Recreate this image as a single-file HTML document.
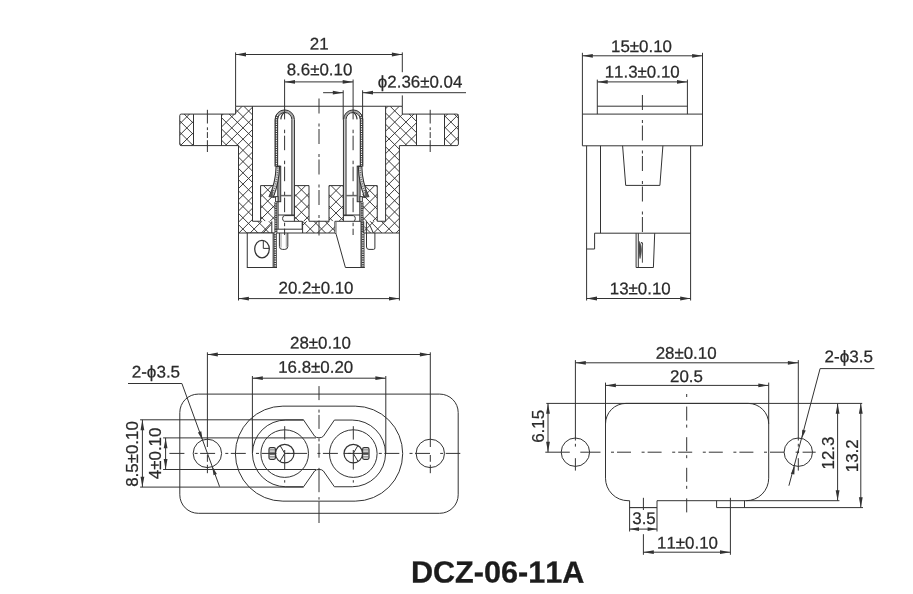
<!DOCTYPE html>
<html lang="en">
<head>
<meta charset="utf-8">
<title>DCZ-06-11A</title>
<style>
html,body{margin:0;padding:0;background:#fff;}
body{width:913px;height:594px;overflow:hidden;}
svg{display:block;}
svg text{font-family:"Liberation Sans",Arial,sans-serif;fill:#2a2a2a;stroke:#2a2a2a;stroke-width:0.25px;font-kerning:none;}
svg{will-change:transform;}
</style>
</head>
<body>
<svg width="913" height="594" viewBox="0 0 913 594" fill="none" stroke="#333333" stroke-width="1">
<rect x="0" y="0" width="913" height="594" fill="#ffffff" stroke="none"/>
<defs>
<clipPath id="hc"><path d="M179.75,114.1 L193.5,114.1 L193.5,145.6 L179.75,145.6 Z M221.5,114.1 L235.6,114.1 L235.6,106.25 L252.5,106.25 L252.5,221.25 L271.8,221.25 L271.8,233 L238.5,233 L238.5,145.6 L221.5,145.6 Z M302.6,221.25 L334.9,221.25 L334.9,233 L302.6,233 Z M364.4,221.25 L385.6,221.25 L385.6,106.25 L402.3,106.25 L402.3,114.1 L416.5,114.1 L416.5,145.6 L399.4,145.6 L399.4,233 L364.4,233 Z M444.5,114.1 L458.4,114.1 L458.4,145.6 L444.5,145.6 Z"/></clipPath>
<clipPath id="hb1"><path d="M260.6,185.6 L274.9,185.6 L274.9,221.25 L260.6,221.25 Z M294.4,185.6 L309,185.6 L309,221.25 L294.4,221.25 Z"/></clipPath>
<clipPath id="hb2"><path d="M329,185.6 L343.4,185.6 L343.4,221.25 L329,221.25 Z M362.5,185.6 L377.25,185.6 L377.25,221.25 L362.5,221.25 Z"/></clipPath>
</defs>
<g id="section-view">
<path d="M174.89,106.25 L48.14,233 M186.11,106.25 L59.36,233 M197.33,106.25 L70.58,233 M208.55,106.25 L81.8,233 M219.77,106.25 L93.02,233 M230.99,106.25 L104.24,233 M242.21,106.25 L115.46,233 M253.43,106.25 L126.68,233 M264.65,106.25 L137.9,233 M275.87,106.25 L149.12,233 M287.09,106.25 L160.34,233 M298.31,106.25 L171.56,233 M309.53,106.25 L182.78,233 M320.75,106.25 L194,233 M331.97,106.25 L205.22,233 M343.19,106.25 L216.44,233 M354.41,106.25 L227.66,233 M365.63,106.25 L238.88,233 M376.85,106.25 L250.1,233 M388.07,106.25 L261.32,233 M399.29,106.25 L272.54,233 M410.51,106.25 L283.76,233 M421.73,106.25 L294.98,233 M432.95,106.25 L306.2,233 M444.17,106.25 L317.42,233 M455.39,106.25 L328.64,233 M466.61,106.25 L339.86,233 M477.83,106.25 L351.08,233 M489.05,106.25 L362.3,233 M500.27,106.25 L373.52,233 M511.49,106.25 L384.74,233 M522.71,106.25 L395.96,233 M533.93,106.25 L407.18,233 M545.15,106.25 L418.4,233 M556.37,106.25 L429.62,233 M567.59,106.25 L440.84,233 M578.81,106.25 L452.06,233 M590.03,106.25 L463.28,233 M52.6,106.25 L179.35,233 M63.85,106.25 L190.6,233 M75.1,106.25 L201.85,233 M86.35,106.25 L213.1,233 M97.6,106.25 L224.35,233 M108.85,106.25 L235.6,233 M120.1,106.25 L246.85,233 M131.35,106.25 L258.1,233 M142.6,106.25 L269.35,233 M153.85,106.25 L280.6,233 M165.1,106.25 L291.85,233 M176.35,106.25 L303.1,233 M187.6,106.25 L314.35,233 M198.85,106.25 L325.6,233 M210.1,106.25 L336.85,233 M221.35,106.25 L348.1,233 M232.6,106.25 L359.35,233 M243.85,106.25 L370.6,233 M255.1,106.25 L381.85,233 M266.35,106.25 L393.1,233 M277.6,106.25 L404.35,233 M288.85,106.25 L415.6,233 M300.1,106.25 L426.85,233 M311.35,106.25 L438.1,233 M322.6,106.25 L449.35,233 M333.85,106.25 L460.6,233 M345.1,106.25 L471.85,233 M356.35,106.25 L483.1,233 M367.6,106.25 L494.35,233 M378.85,106.25 L505.6,233 M390.1,106.25 L516.85,233 M401.35,106.25 L528.1,233 M412.6,106.25 L539.35,233 M423.85,106.25 L550.6,233 M435.1,106.25 L561.85,233 M446.35,106.25 L573.1,233 M457.6,106.25 L584.35,233 M468.85,106.25 L595.6,233" clip-path="url(#hc)" stroke-width="0.95"/>
<path d="M249.56,185.6 L213.91,221.25 M260.78,185.6 L225.13,221.25 M272,185.6 L236.35,221.25 M283.22,185.6 L247.57,221.25 M294.44,185.6 L258.79,221.25 M305.66,185.6 L270.01,221.25 M316.88,185.6 L281.23,221.25 M328.1,185.6 L292.45,221.25 M339.32,185.6 L303.67,221.25 M350.54,185.6 L314.89,221.25 M218.5,185.6 L254.15,221.25 M229.75,185.6 L265.4,221.25 M241,185.6 L276.65,221.25 M252.25,185.6 L287.9,221.25 M263.5,185.6 L299.15,221.25 M274.75,185.6 L310.4,221.25 M286,185.6 L321.65,221.25 M297.25,185.6 L332.9,221.25 M308.5,185.6 L344.15,221.25 M319.75,185.6 L355.4,221.25" clip-path="url(#hb1)" stroke-width="0.95"/>
<path d="M318.58,185.6 L282.93,221.25 M329.8,185.6 L294.15,221.25 M341.02,185.6 L305.37,221.25 M352.24,185.6 L316.59,221.25 M363.46,185.6 L327.81,221.25 M374.68,185.6 L339.03,221.25 M385.9,185.6 L350.25,221.25 M397.12,185.6 L361.47,221.25 M408.34,185.6 L372.69,221.25 M419.56,185.6 L383.91,221.25 M286.05,185.6 L321.7,221.25 M297.3,185.6 L332.95,221.25 M308.55,185.6 L344.2,221.25 M319.8,185.6 L355.45,221.25 M331.05,185.6 L366.7,221.25 M342.3,185.6 L377.95,221.25 M353.55,185.6 L389.2,221.25 M364.8,185.6 L400.45,221.25 M376.05,185.6 L411.7,221.25 M387.3,185.6 L422.95,221.25" clip-path="url(#hb2)" stroke-width="0.95"/>
<path d="M193.5,114.1 L181.25,114.1 Q179.75,114.1 179.75,115.6 L179.75,144.1 Q179.75,145.6 181.25,145.6 L193.5,145.6"/>
<line x1="193.5" y1="114.1" x2="193.5" y2="145.6"/>
<line x1="221.5" y1="114.1" x2="221.5" y2="145.6"/>
<line x1="193.5" y1="114.1" x2="235.6" y2="114.1"/>
<line x1="193.5" y1="145.6" x2="238.5" y2="145.6"/>
<path d="M235.6,114.1 L235.6,106.25 L402.3,106.25 L402.3,114.1"/>
<line x1="238.5" y1="145.6" x2="238.5" y2="233"/>
<line x1="399.4" y1="145.6" x2="399.4" y2="233"/>
<line x1="238.5" y1="233" x2="399.4" y2="233"/>
<path d="M252.5,106.25 L252.5,221.25 L260.6,221.25 L260.6,185.6 L274.9,185.6"/>
<path d="M294.4,221.25 L294.4,185.6 L309,185.6 L309,221.25 L329,221.25 L329,185.6 L343.4,185.6 L343.4,221.25"/>
<path d="M362.5,185.6 L377.25,185.6 L377.25,221.25 L385.6,221.25 L385.6,106.25"/>
<line x1="402.3" y1="114.1" x2="444.5" y2="114.1"/>
<line x1="399.4" y1="145.6" x2="444.5" y2="145.6"/>
<line x1="416.5" y1="114.1" x2="416.5" y2="145.6"/>
<line x1="444.5" y1="114.1" x2="444.5" y2="145.6"/>
<path d="M444.5,114.1 L456.9,114.1 Q458.4,114.1 458.4,115.6 L458.4,144.1 Q458.4,145.6 456.9,145.6 L444.5,145.6"/>
<line x1="302.6" y1="221.25" x2="302.6" y2="233"/>
<line x1="293.15" y1="119.6" x2="293.15" y2="215.6" stroke-width="2.4" stroke="#cccccc"/>
<path d="M276.3,119.6 A8.45,8.45 0 0 1 293.2,119.6" stroke-width="2.2" stroke="#a8a8a8"/>
<path d="M275.05,166.5 L275.05,119.6 A9.7,9.7 0 0 1 294.45,119.6 L294.45,215.6"/>
<path d="M277.65,166.5 L277.65,119.6 A7.1,7.1 0 0 1 291.85,119.6 L291.85,215"/>
<path d="M277.9,114.8 A8.4,8.4 0 0 0 276.4,119.6 L276.4,166.5" stroke="#3a3a3a" stroke-width="3"/>
<path d="M277.9,114.8 A8.4,8.4 0 0 0 276.4,119.6 L276.4,166.5" stroke="#fff" stroke-width="1.1" stroke-dasharray="1.3 1.0"/>
<rect x="277.8" y="166.2" width="2.9" height="35.5" fill="#a6a6a6"/>
<path d="M276.1,166.4 Q275.6,183 269.2,196.5 L273.3,197.1 Q279,183 279.6,166.4 Z" fill="#d9d9d9" stroke-width="1.1"/>
<path d="M277.8,167.5 Q277.3,183 271.4,196.2" stroke="#555" stroke-width="1.6" stroke-dasharray="0.9 1.4"/>
<polygon points="269,196.9 272.6,197.2 273,187.5" fill="#555" stroke="none"/>
<rect x="275.6" y="196.6" width="2.4" height="5.1" fill="#fff"/>
<line x1="272.6" y1="197.2" x2="275.6" y2="197.2"/>
<path d="M284.4,112.6 Q281.4,114.4 280.8,119.4" stroke-width="1.2"/>
<line x1="280.7" y1="195.6" x2="291.85" y2="195.6" stroke-width="1.5" stroke="#666"/>
<line x1="278.1" y1="201.7" x2="278.1" y2="229.2"/>
<path d="M275.9,202 L275.9,233" stroke="#3a3a3a" stroke-width="2.9"/>
<path d="M275.9,202 L275.9,233" stroke="#fff" stroke-width="1" stroke-dasharray="1.3 1.0"/>
<line x1="278.1" y1="215" x2="294.45" y2="215"/>
<path d="M294.45,215.6 L284.6,215.6 Q282.4,216 282.6,218.6 Q282.6,221 284.2,221.3"/>
<line x1="344.75" y1="119.6" x2="344.75" y2="215.6" stroke-width="2.4" stroke="#cccccc"/>
<path d="M361.6,119.6 A8.45,8.45 0 0 0 344.7,119.6" stroke-width="2.2" stroke="#a8a8a8"/>
<path d="M362.85,166.5 L362.85,119.6 A9.7,9.7 0 0 0 343.45,119.6 L343.45,215.6"/>
<path d="M360.25,166.5 L360.25,119.6 A7.1,7.1 0 0 0 346.05,119.6 L346.05,215"/>
<path d="M360,114.8 A8.4,8.4 0 0 1 361.5,119.6 L361.5,166.5" stroke="#3a3a3a" stroke-width="3"/>
<path d="M360,114.8 A8.4,8.4 0 0 1 361.5,119.6 L361.5,166.5" stroke="#fff" stroke-width="1.1" stroke-dasharray="1.3 1.0"/>
<rect x="357.2" y="166.2" width="2.9" height="35.5" fill="#a6a6a6"/>
<path d="M361.8,166.4 Q362.3,183 368.7,196.5 L364.6,197.1 Q358.9,183 358.3,166.4 Z" fill="#d9d9d9" stroke-width="1.1"/>
<path d="M360.1,167.5 Q360.6,183 366.5,196.2" stroke="#555" stroke-width="1.6" stroke-dasharray="0.9 1.4"/>
<polygon points="368.9,196.9 365.3,197.2 364.9,187.5" fill="#555" stroke="none"/>
<rect x="359.9" y="196.6" width="2.4" height="5.1" fill="#fff"/>
<line x1="365.3" y1="197.2" x2="362.3" y2="197.2"/>
<path d="M353.5,112.6 Q356.5,114.4 357.1,119.4" stroke-width="1.2"/>
<line x1="357.2" y1="195.6" x2="346.05" y2="195.6" stroke-width="1.5" stroke="#666"/>
<line x1="359.8" y1="201.7" x2="359.8" y2="229.2"/>
<path d="M362,202 L362,233" stroke="#3a3a3a" stroke-width="2.9"/>
<path d="M362,202 L362,233" stroke="#fff" stroke-width="1" stroke-dasharray="1.3 1.0"/>
<line x1="359.8" y1="215" x2="343.45" y2="215"/>
<path d="M343.45,215.6 L353.3,215.6 Q355.5,216 355.3,218.6 Q355.3,221 353.7,221.3"/>
<path d="M284.2,221.3 L302.2,221.3 L302.2,229.2 L274.5,229.2"/>
<line x1="271.8" y1="221.25" x2="271.8" y2="233"/>
<line x1="263" y1="233" x2="270.8" y2="224.8"/>
<rect x="247.25" y="233" width="25.9" height="34.5" fill="#fff"/>
<ellipse cx="262.0" cy="249.1" rx="7.3" ry="8.7" stroke-width="1.25"/>
<path d="M263.3,240.6 L263.3,248.4 L269.3,248.4"/>
<path d="M275.2,233 L275.2,267.5" stroke="#3a3a3a" stroke-width="3.2"/>
<path d="M275.2,233 L275.2,267.5" stroke="#fff" stroke-width="1.3" stroke-dasharray="1.3 1.0"/>
<line x1="273.1" y1="267.5" x2="277" y2="267.5"/>
<path d="M279.4,233 L279.4,246.4 Q279.4,249.4 282.4,249.4 L284.8,249.4 Q287.8,249.4 287.8,246.4 L287.8,233"/>
<line x1="281" y1="233" x2="281" y2="247.5" stroke-width="0.7" stroke="#777"/>
<line x1="286.3" y1="233" x2="286.3" y2="247.5" stroke-width="0.7" stroke="#777"/>
<path d="M334.9,221.3 L361.0,221.3 L361.0,267.5 L345.4,267.5 L336.2,234.3 L334.9,232.5 Z" fill="#fff"/>
<line x1="336.2" y1="221.3" x2="336.2" y2="234.3" stroke-width="0.8" stroke="#777"/>
<path d="M362.9,233 L362.9,267.5" stroke="#3a3a3a" stroke-width="3.2"/>
<path d="M362.9,233 L362.9,267.5" stroke="#fff" stroke-width="1.3" stroke-dasharray="1.3 1.0"/>
<line x1="361" y1="267.5" x2="364.8" y2="267.5"/>
<line x1="363.7" y1="221.25" x2="363.7" y2="233"/>
<line x1="366.4" y1="221.25" x2="366.4" y2="233"/>
<path d="M366.4,221.3 Q370.6,225 373.3,233"/>
<path d="M366.5,233 L366.5,247.0 Q366.5,249.4 369.0,249.4 L373.6,249.4 Q374.9,249.4 374.9,248.0 L374.9,233"/>
<line x1="319" y1="98.5" x2="319" y2="235.5" stroke-dasharray="15 10 3 2.5"/>
<line x1="284.6" y1="129.7" x2="284.6" y2="235" stroke-dasharray="3.5 2.5 14.5 10.5"/>
<line x1="353.1" y1="129.7" x2="353.1" y2="235" stroke-dasharray="3.5 2.5 14.5 10.5"/>
<line x1="207.4" y1="109.8" x2="207.4" y2="123.5"/>
<line x1="207.4" y1="127.3" x2="207.4" y2="130.1"/>
<line x1="207.4" y1="132.1" x2="207.4" y2="138"/>
<line x1="207.4" y1="140.2" x2="207.4" y2="152"/>
<line x1="430.2" y1="109.8" x2="430.2" y2="123.5"/>
<line x1="430.2" y1="127.3" x2="430.2" y2="130.1"/>
<line x1="430.2" y1="132.1" x2="430.2" y2="138"/>
<line x1="430.2" y1="140.2" x2="430.2" y2="152"/>
<line x1="235.6" y1="52.4" x2="235.6" y2="106.25"/>
<line x1="402.3" y1="52.4" x2="402.3" y2="72.2"/>
<line x1="402.3" y1="95.4" x2="402.3" y2="106.25"/>
<line x1="235.6" y1="54.5" x2="402.3" y2="54.5"/>
<polygon points="235.6,54.5 246,52.6 246,56.4" fill="#333333" stroke="none"/>
<polygon points="402.3,54.5 391.9,56.4 391.9,52.6" fill="#333333" stroke="none"/>
<text transform="translate(319.2,49.4) rotate(0.03) scale(1,1)" font-size="16.9" text-anchor="middle">21</text>
<line x1="284.6" y1="79.5" x2="284.6" y2="119.4"/>
<line x1="353.1" y1="79.5" x2="353.1" y2="119.4"/>
<line x1="284.6" y1="81.9" x2="353.1" y2="81.9"/>
<polygon points="284.6,81.9 295,80 295,83.8" fill="#333333" stroke="none"/>
<polygon points="353.1,81.9 342.7,83.8 342.7,80" fill="#333333" stroke="none"/>
<text transform="translate(319.5,75.3) rotate(0.03) scale(1,1)" font-size="16.9" text-anchor="middle">8.6±0.10</text>
<line x1="343.2" y1="90.3" x2="343.2" y2="119.6"/>
<line x1="362.6" y1="90.3" x2="362.6" y2="119.6"/>
<line x1="323.1" y1="92.7" x2="343.2" y2="92.7"/>
<line x1="362.6" y1="92.7" x2="466" y2="92.7"/>
<polygon points="343.2,92.7 332.8,94.6 332.8,90.8" fill="#333333" stroke="none"/>
<polygon points="362.6,92.7 373,90.8 373,94.6" fill="#333333" stroke="none"/>
<text transform="translate(420.1,87.5) rotate(0.03) scale(1,1)" font-size="16.9" text-anchor="middle">ϕ2.36±0.04</text>
<line x1="238.5" y1="233" x2="238.5" y2="300.5"/>
<line x1="399.4" y1="233" x2="399.4" y2="300.5"/>
<line x1="238.5" y1="298.6" x2="399.4" y2="298.6"/>
<polygon points="238.5,298.6 248.9,296.7 248.9,300.5" fill="#333333" stroke="none"/>
<polygon points="399.4,298.6 389,300.5 389,296.7" fill="#333333" stroke="none"/>
<text transform="translate(316,293.6) rotate(0.03) scale(1,1)" font-size="16.9" text-anchor="middle">20.2±0.10</text>
</g>
<g id="side-view">
<line x1="582.4" y1="52.8" x2="582.4" y2="145.8"/>
<line x1="702.5" y1="52.8" x2="702.5" y2="145.8"/>
<line x1="582.4" y1="55.8" x2="702.5" y2="55.8"/>
<polygon points="582.4,55.8 592.8,53.9 592.8,57.7" fill="#333333" stroke="none"/>
<polygon points="702.5,55.8 692.1,57.7 692.1,53.9" fill="#333333" stroke="none"/>
<text transform="translate(641.5,52) rotate(0.03) scale(1,1)" font-size="16.9" text-anchor="middle">15±0.10</text>
<line x1="597.3" y1="79.6" x2="597.3" y2="114.1"/>
<line x1="687.4" y1="79.6" x2="687.4" y2="114.1"/>
<line x1="597.3" y1="81.9" x2="687.4" y2="81.9"/>
<polygon points="597.3,81.9 607.7,80 607.7,83.8" fill="#333333" stroke="none"/>
<polygon points="687.4,81.9 677,83.8 677,80" fill="#333333" stroke="none"/>
<text transform="translate(642.2,77.4) rotate(0.03) scale(1,1)" font-size="16.9" text-anchor="middle">11.3±0.10</text>
<line x1="597.3" y1="106.2" x2="687.4" y2="106.2"/>
<line x1="582.4" y1="114.1" x2="702.5" y2="114.1"/>
<line x1="582.4" y1="145.8" x2="702.5" y2="145.8"/>
<line x1="586.6" y1="145.8" x2="586.6" y2="300.5"/>
<line x1="600.5" y1="145.8" x2="600.5" y2="233.2"/>
<line x1="690.6" y1="145.8" x2="690.6" y2="300.5"/>
<path d="M622.6,145.8 L625.7,185.4 L659.9,185.4 L662.9,145.8"/>
<path d="M586.6,249 L594.6,249 L594.6,233.2 L690.6,233.2"/>
<path d="M636.1,233.2 L636.1,267.5 L653.4,267.5 L654.7,233.2"/>
<line x1="638.3" y1="233.2" x2="638.3" y2="267.5"/>
<path d="M639.3,241.4 Q642.0,246 641.4,251 Q641.0,256 640.0,258.6 Q638.8,254 638.9,249 Q638.9,244 639.3,241.4 Z" fill="#4a4a4a" stroke="#4a4a4a" stroke-width="0.6"/>
<line x1="642.4" y1="242.5" x2="642.4" y2="262.7" stroke-width="0.9"/>
<line x1="641.2" y1="242" x2="642.6" y2="244.2" stroke-width="0.9"/>
<line x1="642.4" y1="95" x2="642.4" y2="232.5" stroke-dasharray="15 10 3 2.5"/>
<line x1="586.6" y1="298.5" x2="690.6" y2="298.5"/>
<polygon points="586.6,298.5 597,296.6 597,300.4" fill="#333333" stroke="none"/>
<polygon points="690.6,298.5 680.2,300.4 680.2,296.6" fill="#333333" stroke="none"/>
<text transform="translate(640.2,294.2) rotate(0.03) scale(1,1)" font-size="16.9" text-anchor="middle">13±0.10</text>
</g>
<g id="front-view">
<rect x="179.8" y="394.1" width="278.4" height="119.2" rx="18.5" ry="18.5"/>
<path d="M282.9,406.15 A47.5,47.5 0 0 0 282.9,501.15 L355.2,501.15 A47.5,47.5 0 0 0 355.2,406.15 Z"/>
<path d="M285.8,420.05 A33.35,33.35 0 0 0 285.8,486.75 L303.6,486.75 L314.6,471 Q316,469.4 319,469.4 Q322,469.4 323.4,471 L334.4,486.75 L352.2,486.75 A33.35,33.35 0 0 0 352.2,420.05 L334.4,420.05 L323.4,436.2 Q322,437.8 319,437.8 Q316,437.8 314.6,436.2 L303.6,420.05 Z"/>
<circle cx="284.7" cy="453.6" r="23.8"/>
<circle cx="284.7" cy="453.6" r="9.3" stroke-width="1.2"/>
<line x1="284.7" y1="453.4" x2="294.2" y2="453.4"/>
<line x1="284.7" y1="453.4" x2="279.9" y2="445.2"/>
<line x1="284.7" y1="453.4" x2="279.9" y2="461.6"/>
<rect x="269" y="447.7" width="6.4" height="11.6" rx="1.5" ry="1.5" stroke-width="1.2" fill="#f4f4f4"/>
<line x1="269.5" y1="449.92" x2="274.9" y2="449.92" stroke-width="0.85" stroke="#4a4a4a"/>
<line x1="269.5" y1="452.24" x2="274.9" y2="452.24" stroke-width="0.85" stroke="#4a4a4a"/>
<line x1="269.5" y1="454.56" x2="274.9" y2="454.56" stroke-width="0.85" stroke="#4a4a4a"/>
<line x1="269.5" y1="456.88" x2="274.9" y2="456.88" stroke-width="0.85" stroke="#4a4a4a"/>
<line x1="284.7" y1="426.2" x2="284.7" y2="439.6"/>
<line x1="284.7" y1="450" x2="284.7" y2="469.6"/>
<line x1="284.7" y1="480.2" x2="284.7" y2="482.6"/>
<circle cx="353.3" cy="453.6" r="23.8"/>
<circle cx="353.3" cy="453.6" r="9.3" stroke-width="1.2"/>
<line x1="353.3" y1="453.4" x2="343.8" y2="453.4"/>
<line x1="353.3" y1="453.4" x2="358.1" y2="445.2"/>
<line x1="353.3" y1="453.4" x2="358.1" y2="461.6"/>
<rect x="362.6" y="447.7" width="6.4" height="11.6" rx="1.5" ry="1.5" stroke-width="1.2" fill="#f4f4f4"/>
<line x1="363.1" y1="449.92" x2="368.5" y2="449.92" stroke-width="0.85" stroke="#4a4a4a"/>
<line x1="363.1" y1="452.24" x2="368.5" y2="452.24" stroke-width="0.85" stroke="#4a4a4a"/>
<line x1="363.1" y1="454.56" x2="368.5" y2="454.56" stroke-width="0.85" stroke="#4a4a4a"/>
<line x1="363.1" y1="456.88" x2="368.5" y2="456.88" stroke-width="0.85" stroke="#4a4a4a"/>
<line x1="353.3" y1="426.2" x2="353.3" y2="439.6"/>
<line x1="353.3" y1="450" x2="353.3" y2="469.6"/>
<line x1="353.3" y1="480.2" x2="353.3" y2="482.6"/>
<line x1="319" y1="386.1" x2="319" y2="460" stroke-dasharray="14 9.5 3 2.3"/>
<line x1="319" y1="467.9" x2="319" y2="492.2"/>
<line x1="319" y1="497.2" x2="319" y2="499.6"/>
<line x1="319" y1="501.5" x2="319" y2="523"/>
<line x1="169.4" y1="453.4" x2="460.3" y2="453.4" stroke-dasharray="15 10.2 3 2.5"/>
<circle cx="207.4" cy="453.4" r="14.2"/>
<circle cx="430.3" cy="453.4" r="14.2"/>
<line x1="207.4" y1="352.3" x2="207.4" y2="447"/>
<line x1="207.4" y1="455" x2="207.4" y2="461.8"/>
<line x1="207.4" y1="464.8" x2="207.4" y2="473.2"/>
<line x1="430.3" y1="352.3" x2="430.3" y2="447"/>
<line x1="430.3" y1="455" x2="430.3" y2="461.8"/>
<line x1="430.3" y1="464.8" x2="430.3" y2="473.2"/>
<line x1="207.4" y1="354.5" x2="430.3" y2="354.5"/>
<polygon points="207.4,354.5 217.8,352.6 217.8,356.4" fill="#333333" stroke="none"/>
<polygon points="430.3,354.5 419.9,356.4 419.9,352.6" fill="#333333" stroke="none"/>
<text transform="translate(320.5,348.5) rotate(0.03) scale(1,1)" font-size="16.9" text-anchor="middle">28±0.10</text>
<line x1="252.4" y1="376" x2="252.4" y2="453.4"/>
<line x1="385.8" y1="376" x2="385.8" y2="453.4"/>
<line x1="252.4" y1="378.2" x2="385.8" y2="378.2"/>
<polygon points="252.4,378.2 262.8,376.3 262.8,380.1" fill="#333333" stroke="none"/>
<polygon points="385.8,378.2 375.4,380.1 375.4,376.3" fill="#333333" stroke="none"/>
<text transform="translate(315.7,372.7) rotate(0.03) scale(1,1)" font-size="16.9" text-anchor="middle">16.8±0.20</text>
<text transform="translate(155.9,377.4) rotate(0.03) scale(1.01,1)" font-size="16.9" text-anchor="middle">2-ϕ3.5</text>
<path d="M128,383.5 L181.9,383.5 L219.6,486.7"/>
<polygon points="202.6,440.2 197.89,432.55 201.27,431.32" fill="#333333" stroke="none"/>
<polygon points="212.2,466.4 216.91,474.05 213.53,475.28" fill="#333333" stroke="none"/>
<line x1="140.1" y1="419.8" x2="303.6" y2="419.8"/>
<line x1="140.1" y1="487.1" x2="303.6" y2="487.1"/>
<line x1="142.4" y1="419.8" x2="142.4" y2="487.1"/>
<polygon points="142.4,419.8 144.3,430.2 140.5,430.2" fill="#333333" stroke="none"/>
<polygon points="142.4,487.1 140.5,476.7 144.3,476.7" fill="#333333" stroke="none"/>
<line x1="163.1" y1="437.9" x2="316" y2="437.9"/>
<line x1="163.1" y1="469.5" x2="316" y2="469.5"/>
<line x1="165.6" y1="437.9" x2="165.6" y2="469.5"/>
<polygon points="165.6,437.9 167.5,448.3 163.7,448.3" fill="#333333" stroke="none"/>
<polygon points="165.6,469.5 163.7,459.1 167.5,459.1" fill="#333333" stroke="none"/>
<text transform="translate(137.5,454) rotate(-90) scale(1,1)" font-size="16.9" text-anchor="middle">8.5±0.10</text>
<text transform="translate(160.9,453.4) rotate(-90) scale(1,1)" font-size="16.9" text-anchor="middle">4±0.10</text>
</g>
<g id="cutout-view">
<path d="M605.5,423.9 A20.5,20.5 0 0 1 626,403.4 L748.2,403.4 A20.5,20.5 0 0 1 768.7,423.9 L768.7,478.2 A22.5,22.5 0 0 1 746.2,500.7"/>
<path d="M628,500.7 A22.5,22.5 0 0 1 605.5,478.2 L605.5,423.9"/>
<line x1="546.3" y1="403.4" x2="862.2" y2="403.4"/>
<line x1="628" y1="500.7" x2="629.6" y2="500.7"/>
<line x1="629.6" y1="500.7" x2="629.6" y2="531.5"/>
<line x1="657" y1="500.7" x2="657" y2="531.5"/>
<line x1="629.6" y1="507.6" x2="657" y2="507.6" stroke-width="1.1"/>
<line x1="657" y1="500.7" x2="839.4" y2="500.7"/>
<line x1="716.6" y1="500.7" x2="716.6" y2="507.6"/>
<line x1="744.5" y1="500.7" x2="744.5" y2="507.6"/>
<line x1="716.6" y1="507.6" x2="863" y2="507.6"/>
<circle cx="575.4" cy="452.2" r="14.2"/>
<circle cx="798.3" cy="452.2" r="14.2"/>
<line x1="545.3" y1="452.2" x2="569.8" y2="452.2"/>
<line x1="580.3" y1="452.2" x2="600.5" y2="452.2"/>
<line x1="611" y1="452.2" x2="785.5" y2="452.2" stroke-dasharray="3 3 14 10.6"/>
<line x1="795.6" y1="452.2" x2="799.1" y2="452.2"/>
<line x1="802.6" y1="452.2" x2="815.7" y2="452.2"/>
<line x1="686.7" y1="394" x2="686.7" y2="512.4" stroke-dasharray="3 9.6 14 4"/>
<line x1="575.4" y1="360.1" x2="575.4" y2="440.5"/>
<line x1="575.4" y1="443.8" x2="575.4" y2="446.6"/>
<line x1="575.4" y1="458.2" x2="575.4" y2="470.6"/>
<line x1="798.3" y1="360.1" x2="798.3" y2="440.5"/>
<line x1="798.3" y1="443.8" x2="798.3" y2="446.6"/>
<line x1="798.3" y1="458.2" x2="798.3" y2="470.6"/>
<line x1="798.3" y1="450.4" x2="798.3" y2="453.2"/>
<line x1="575.4" y1="362.8" x2="798.3" y2="362.8"/>
<polygon points="575.4,362.8 585.8,360.9 585.8,364.7" fill="#333333" stroke="none"/>
<polygon points="798.3,362.8 787.9,364.7 787.9,360.9" fill="#333333" stroke="none"/>
<text transform="translate(686.1,358.7) rotate(0.03) scale(1,1)" font-size="16.9" text-anchor="middle">28±0.10</text>
<line x1="605.5" y1="382.6" x2="605.5" y2="423.9"/>
<line x1="768.7" y1="382.6" x2="768.7" y2="423.9"/>
<line x1="605.5" y1="385.4" x2="768.7" y2="385.4"/>
<polygon points="605.5,385.4 615.9,383.5 615.9,387.3" fill="#333333" stroke="none"/>
<polygon points="768.7,385.4 758.3,387.3 758.3,383.5" fill="#333333" stroke="none"/>
<text transform="translate(686.5,382.1) rotate(0.03) scale(1,1)" font-size="16.9" text-anchor="middle">20.5</text>
<line x1="548" y1="403.4" x2="548" y2="452.2"/>
<polygon points="548,403.4 549.9,413.8 546.1,413.8" fill="#333333" stroke="none"/>
<polygon points="548,452.2 546.1,441.8 549.9,441.8" fill="#333333" stroke="none"/>
<text transform="translate(543.7,426.4) rotate(-90) scale(1,1)" font-size="16.9" text-anchor="middle">6.15</text>
<line x1="837.6" y1="403.4" x2="837.6" y2="500.7"/>
<polygon points="837.6,403.4 839.5,413.8 835.7,413.8" fill="#333333" stroke="none"/>
<polygon points="837.6,500.7 835.7,490.3 839.5,490.3" fill="#333333" stroke="none"/>
<line x1="860.8" y1="403.4" x2="860.8" y2="507.6"/>
<polygon points="860.8,403.4 862.7,413.8 858.9,413.8" fill="#333333" stroke="none"/>
<polygon points="860.8,507.6 858.9,497.2 862.7,497.2" fill="#333333" stroke="none"/>
<text transform="translate(833.8,453) rotate(-90) scale(1,1)" font-size="16.9" text-anchor="middle">12.3</text>
<text transform="translate(857.5,455.8) rotate(-90) scale(1,1)" font-size="16.9" text-anchor="middle">13.2</text>
<text transform="translate(848.8,362.2) rotate(0.03) scale(1.01,1)" font-size="16.9" text-anchor="middle">2-ϕ3.5</text>
<path d="M874.4,368.6 L820.1,368.6 L788.9,485.7"/>
<polygon points="801.8,438.6 802.28,429.63 805.76,430.54" fill="#333333" stroke="none"/>
<polygon points="794.8,465.6 794.32,474.57 790.84,473.66" fill="#333333" stroke="none"/>
<line x1="629.6" y1="529.1" x2="657" y2="529.1"/>
<polygon points="629.6,529.1 639,527.25 639,530.95" fill="#333333" stroke="none"/>
<polygon points="657,529.1 647.6,530.95 647.6,527.25" fill="#333333" stroke="none"/>
<text transform="translate(644,523.9) rotate(0.03) scale(1,1)" font-size="16.9" text-anchor="middle">3.5</text>
<line x1="643.4" y1="497.8" x2="643.4" y2="510"/>
<line x1="643.4" y1="534.2" x2="643.4" y2="554.8"/>
<line x1="730.4" y1="497.8" x2="730.4" y2="554.8"/>
<line x1="643.4" y1="552.2" x2="730.4" y2="552.2"/>
<polygon points="643.4,552.2 653.8,550.3 653.8,554.1" fill="#333333" stroke="none"/>
<polygon points="730.4,552.2 720,554.1 720,550.3" fill="#333333" stroke="none"/>
<text transform="translate(687.5,548.4) rotate(0.03) scale(1,1)" font-size="16.9" text-anchor="middle">11±0.10</text>
</g>
<text transform="translate(497.6,582.6) rotate(0.03) scale(1,1)" font-size="30.6" text-anchor="middle" font-weight="bold" style="fill:#1c1c1c;stroke:#1c1c1c;stroke-width:0.3px">DCZ-06-11A</text>
</svg>
</body>
</html>
